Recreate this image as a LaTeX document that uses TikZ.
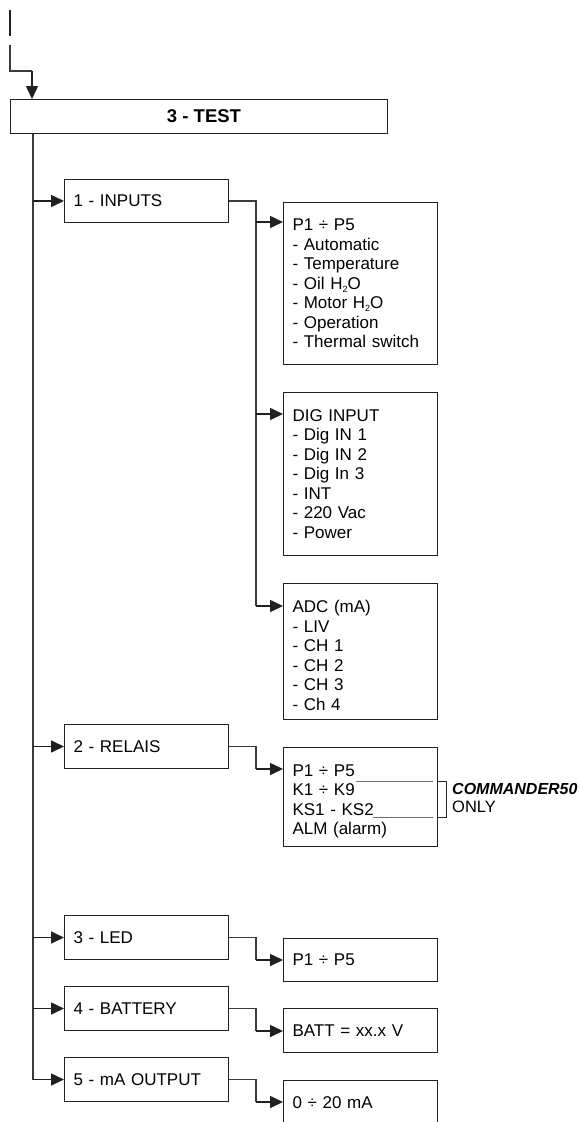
\documentclass[tikz,border=0pt]{standalone}
\usepackage{fontspec}
\setmainfont{Liberation Sans}
\usetikzlibrary{arrows.meta,calc}
\definecolor{ink}{HTML}{231F20}
\definecolor{thinc}{HTML}{3C3A3B}
\definecolor{ulgray}{HTML}{707070}
\newcommand{\subtwo}{\raisebox{-0.35ex}{\fontsize{9}{9}\selectfont 2}}
\begin{document}
\begin{tikzpicture}[x=1pt,y=-1pt,
  box/.style={draw=ink, line width=1pt, inner xsep=9pt, inner ysep=0pt, anchor=north west, align=left, font=\fontsize{17}{19.5}\selectfont, text=black},
  mainbox/.style={box, text width=146pt, minimum height=44pt},
  subbox/.style={box, text width=136pt},
  conn/.style={draw=thinc, line width=1.1pt},
  arr/.style={draw=ink, line width=1.6pt, -{Triangle[length=13pt,width=12pt]}},
]
\useasboundingbox (0,0) rectangle (580,1122);

% title box
\node[draw=ink, line width=1pt, anchor=north west, minimum width=377pt, minimum height=34pt, inner sep=0pt, font=\bfseries\fontsize{18.5}{20}\selectfont] (test) at (10,99) {\hspace*{10pt}3 - TEST};

% incoming line
\coordinate (in1) at (10,10);
\coordinate (in2) at (10,36);
\coordinate (in3) at (10,45);
\coordinate (in4) at (10,71);
\coordinate (testin) at ([xshift=22pt]test.north west);
\draw[ink, line width=2pt] (in1) -- (in2);
\draw[conn] (in3) -- (in4) -- (in4 -| testin);
\draw[arr] (in4 -| testin) -- (testin);

% main boxes
\node[mainbox, minimum height=43pt] (inputs) at (64,179) {1 - INPUTS};
\node[mainbox] (relais) at (64,724) {2 - RELAIS};
\node[mainbox] (led) at (64,915) {3 - LED};
\node[mainbox] (batt) at (64,986) {4 - BATTERY};
\node[mainbox] (maout) at (64,1057) {5 - mA OUTPUT};

% sub boxes
\node[subbox, minimum height=162pt] (p1) at (283,202) {P1 ÷ P5\\- Automatic\\- Temperature\\- Oil H\subtwo O\\- Motor H\subtwo O\\- Operation\\- Thermal switch};
\node[subbox, minimum height=163pt] (dig) at (283,392) {DIG INPUT\\- Dig IN 1\\- Dig IN 2\\- Dig In 3\\- INT\\- 220 Vac\\- Power};
\node[subbox, minimum height=136pt] (adc) at (283,583) {\rule{0pt}{20.5pt}ADC (mA)\\- LIV\\- CH 1\\- CH 2\\- CH 3\\- Ch 4};
\node[subbox, minimum height=99pt] (rel) at (283,747) {\rule{0pt}{20.5pt}P1 ÷ P5\\K1 ÷ K9\\KS1 - KS2\\ALM (alarm)};
\node[subbox, minimum height=43pt] (ledv) at (283,938) {P1 ÷ P5};
\node[subbox, minimum height=44pt] (battv) at (283,1008) {BATT = xx.x V};
\node[subbox, minimum height=44pt] (mav) at (283,1080) {0 ÷ 20 mA};

% trunk
\coordinate (trunk) at ([xshift=23pt]test.south west);
\draw[conn] (trunk) -- (trunk |- maout.west);
\foreach \n in {inputs,relais,led,batt,maout}
  \draw[arr] (trunk |- \n.west) -- (\n.west);

% inputs branch
\coordinate (ibus) at ([xshift=27pt]inputs.east);
\coordinate (p1in) at ([yshift=-20pt]p1.north west);
\coordinate (digin) at ([yshift=-22pt]dig.north west);
\coordinate (adcin) at ([yshift=-23pt]adc.north west);
\draw[conn] (inputs.east) -- (ibus) -- (ibus |- adcin);
\draw[arr] (ibus |- p1in) -- (p1in);
\draw[arr] (ibus |- digin) -- (digin);
\draw[arr] (ibus |- adcin) -- (adcin);

% other branches
\foreach \a/\b in {relais/rel,led/ledv,batt/battv,maout/mav}{
  \draw[conn] (\a.east) -- ([xshift=27pt]\a.east) -- ([xshift=27pt]\a.south east);
  \draw[arr] ([xshift=27pt]\a.south east) -- (\a.south -| \b.west);
}

% COMMANDER50 marks
\draw[ulgray, line width=0.8pt] (356,781) -- (433,781);
\draw[ulgray, line width=0.8pt] (373,817) -- (433,817);
\draw[ink, line width=0.9pt] (438,781) -- (446,781) -- (446,817) -- (438,817);
\node[anchor=base west, inner sep=0pt, font=\bfseries\itshape\fontsize{16}{18}\selectfont] (cmd) at (452,794) {COMMANDER50};
\node[anchor=base west, inner sep=0pt, font=\fontsize{16.5}{18}\selectfont] (only) at (452,812.5) {ONLY};
\end{tikzpicture}
\end{document}
